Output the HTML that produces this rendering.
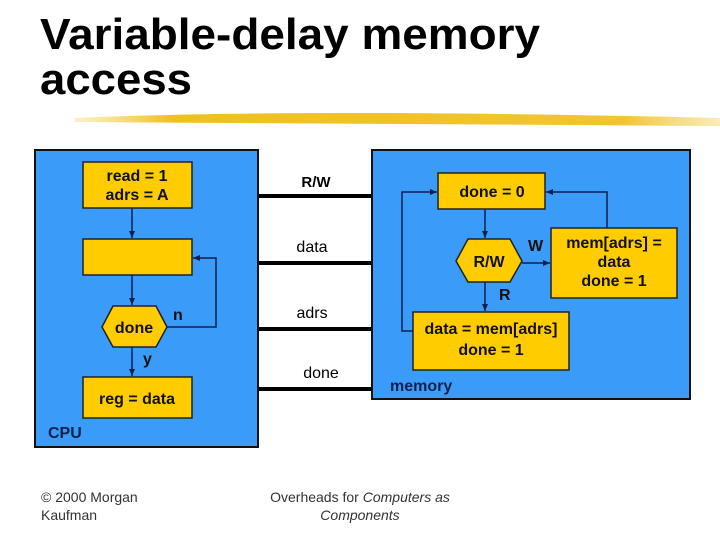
<!DOCTYPE html>
<html><head><meta charset="utf-8"><style>
body{margin:0;width:720px;height:540px;background:#fff;overflow:hidden;font-family:"Liberation Sans",Arial,sans-serif}
</style></head><body>
<svg width="720" height="540" xmlns="http://www.w3.org/2000/svg" font-family="Liberation Sans, Arial, sans-serif">
<defs>
<marker id="a" markerWidth="8" markerHeight="8" refX="7" refY="4" orient="auto" markerUnits="userSpaceOnUse"><path d="M0,1 L7,4 L0,7 Z" fill="#102050"/></marker>
<linearGradient id="g" x1="0" x2="1"><stop offset="0" stop-color="#f5d040" stop-opacity="0.3"/><stop offset="0.15" stop-color="#f0c020"/><stop offset="0.85" stop-color="#f2c530"/><stop offset="1" stop-color="#f5d050" stop-opacity="0.4"/></linearGradient>
</defs>
<text x="40" y="49" font-size="44" font-weight="bold" fill="#000" textLength="500" lengthAdjust="spacingAndGlyphs">Variable-delay memory</text>
<text x="40" y="94" font-size="44" font-weight="bold" fill="#000" textLength="152" lengthAdjust="spacingAndGlyphs">access</text>
<path d="M75,118 Q300,108 720,118 L720,126 Q400,124 75,122 Z" fill="url(#g)"/>

<!-- CPU -->
<rect x="35" y="150" width="223" height="297" fill="#3b9bf8" stroke="#111" stroke-width="2"/>
<g fill="#ffcc00" stroke="#222" stroke-width="1.5">
<rect x="83" y="162" width="109" height="46"/>
<rect x="83" y="239" width="109" height="36"/>
<polygon points="102,327 113,306 156,306 167,327 156,347 113,347"/>
<rect x="83" y="377" width="109" height="41"/>
</g>
<g stroke="#102050" stroke-width="1.5" fill="none">
<line x1="132" y1="208" x2="132" y2="238" marker-end="url(#a)"/>
<line x1="132" y1="275" x2="132" y2="305" marker-end="url(#a)"/>
<line x1="132" y1="347" x2="132" y2="376" marker-end="url(#a)"/>
<polyline points="167,327 216,327 216,258 193,258" marker-end="url(#a)"/>
</g>
<g font-size="16" font-weight="bold" fill="#111" text-anchor="middle">
<text x="137" y="181">read = 1</text>
<text x="137" y="200">adrs = A</text>
<text x="134" y="333">done</text>
<text x="137" y="404">reg = data</text>
</g>
<text x="173" y="320" font-size="16" font-weight="bold" fill="#111">n</text>
<text x="143" y="364" font-size="16" font-weight="bold" fill="#111">y</text>
<text x="48" y="438" font-size="16" font-weight="bold" fill="#102050">CPU</text>

<!-- bus -->
<g stroke="#000" stroke-width="4">
<line x1="259" y1="196" x2="371" y2="196"/>
<line x1="259" y1="263" x2="371" y2="263"/>
<line x1="259" y1="329" x2="371" y2="329"/>
<line x1="259" y1="389" x2="371" y2="389"/>
</g>
<g font-size="16" fill="#000" text-anchor="middle">
<text x="316" y="187" font-weight="bold" font-size="15">R/W</text>
<text x="312" y="252">data</text>
<text x="312" y="318">adrs</text>
<text x="321" y="378">done</text>
</g>

<!-- memory -->
<rect x="372" y="150" width="318" height="249" fill="#3b9bf8" stroke="#111" stroke-width="2"/>
<g fill="#ffcc00" stroke="#222" stroke-width="1.5">
<rect x="438" y="173" width="107" height="36"/>
<polygon points="456,261 468,239 510,239 522,261 510,282 468,282"/>
<rect x="551" y="228" width="126" height="70"/>
<rect x="413" y="312" width="156" height="58"/>
</g>
<g stroke="#102050" stroke-width="1.5" fill="none">
<line x1="485" y1="209" x2="485" y2="238" marker-end="url(#a)"/>
<line x1="485" y1="282" x2="485" y2="311" marker-end="url(#a)"/>
<line x1="522" y1="263" x2="550" y2="263" marker-end="url(#a)"/>
<polyline points="413,331 402,331 402,192 437,192" marker-end="url(#a)"/>
<polyline points="607,228 607,192 546,192" marker-end="url(#a)"/>
</g>
<g font-size="16" font-weight="bold" fill="#111" text-anchor="middle">
<text x="492" y="197">done = 0</text>
<text x="489" y="267">R/W</text>
<text x="614" y="248">mem[adrs] =</text>
<text x="614" y="267">data</text>
<text x="614" y="286">done = 1</text>
<text x="491" y="334">data = mem[adrs]</text>
<text x="491" y="355">done = 1</text>
</g>
<text x="528" y="251" font-size="16" font-weight="bold" fill="#111">W</text>
<text x="499" y="300" font-size="16" font-weight="bold" fill="#111">R</text>
<text x="390" y="391" font-size="16" font-weight="bold" fill="#102050">memory</text>

<g font-size="14" fill="#333">
<text x="41" y="502">© 2000 Morgan</text>
<text x="41" y="520">Kaufman</text>
<text x="360" y="502" text-anchor="middle">Overheads for <tspan font-style="italic">Computers as</tspan></text>
<text x="360" y="520" text-anchor="middle" font-style="italic">Components</text>
</g>
</svg>
</body></html>
